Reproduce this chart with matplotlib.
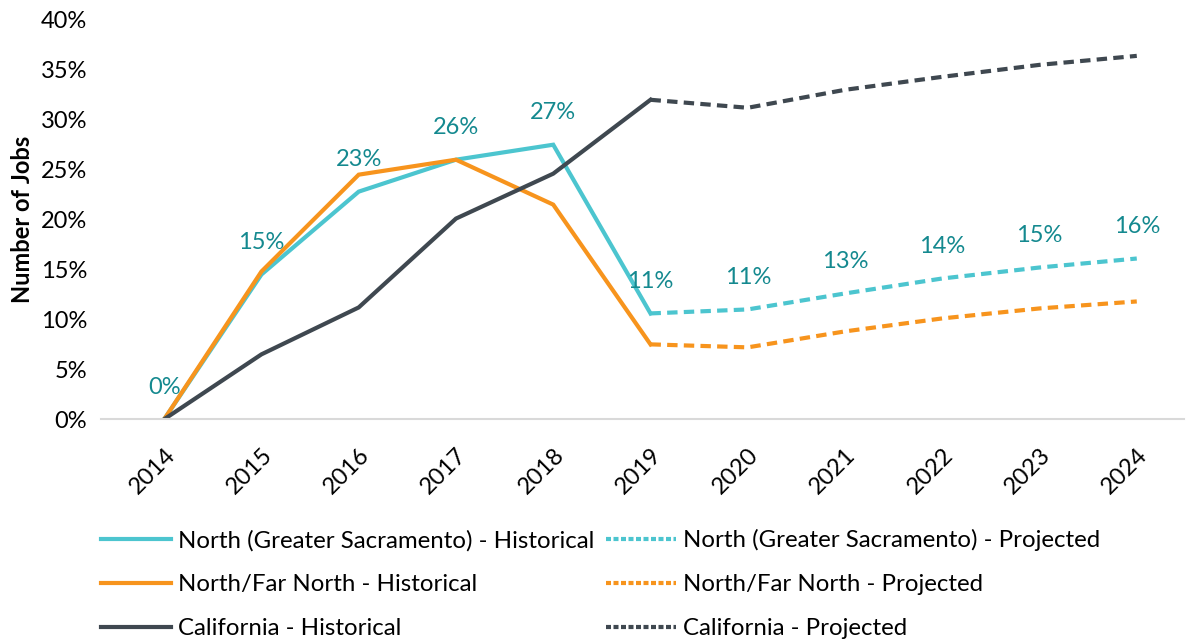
import matplotlib.pyplot as plt
from matplotlib.lines import Line2D

###
# DATA
###
YEARS = [2014, 2015, 2016, 2017, 2018, 2019, 2020, 2021, 2022, 2023, 2024]
HIST_YEARS = YEARS[:6]
PROJ_YEARS = YEARS[5:]

sac_hist = [0.0, 14.5, 22.8, 26.0, 27.5, 10.6]
sac_proj = [10.6, 11.0, 12.6, 14.1, 15.2, 16.1]
far_hist = [0.0, 14.8, 24.5, 26.0, 21.5, 7.5]
far_proj = [7.5, 7.2, 8.8, 10.1, 11.1, 11.8]
ca_hist = [0.0, 6.5, 11.2, 20.1, 24.6, 32.0]
ca_proj = [32.0, 31.2, 33.0, 34.3, 35.5, 36.4]

sac_labels = ['0%', '15%', '23%', '26%', '27%', '11%', '11%', '13%', '14%', '15%', '16%']

###
# PLOT SETTINGS
###
plt.rcParams['font.family'] = ['Lato', 'DejaVu Sans']
TEAL = '#4CC5CF'
ORANGE = '#F7941D'
DARK = '#3F4850'
LABEL_C = '#14898F'
LW = 3
DASH = (2.5, 1.5)

fig = plt.figure(figsize=[11.88, 6.43], dpi=100)
ax = fig.add_axes([0.085, 0.348, 0.912, 0.621])

ax.plot(HIST_YEARS, sac_hist, color=TEAL, lw=LW, solid_joinstyle='miter')
ax.plot(HIST_YEARS, far_hist, color=ORANGE, lw=LW, solid_joinstyle='miter')
ax.plot(HIST_YEARS, ca_hist, color=DARK, lw=LW, solid_joinstyle='miter')
ax.plot(PROJ_YEARS, sac_proj, color=TEAL, lw=LW, dashes=DASH)
ax.plot(PROJ_YEARS, far_proj, color=ORANGE, lw=LW, dashes=DASH)
ax.plot(PROJ_YEARS, ca_proj, color=DARK, lw=LW, dashes=DASH)

# data labels for Greater Sacramento
sac_all = sac_hist + sac_proj[1:]
for x, y, t in zip(YEARS, sac_all, sac_labels):
    ax.annotate(t, (x, y), xytext=(0, 23), textcoords='offset points',
                ha='center', va='center', color=LABEL_C, fontsize=17)

ax.set_xlim(2014 - 0.65, 2024 + 0.49)
ax.set_ylim(0, 40)
ax.set_yticks(range(0, 41, 5))
ax.set_yticklabels([str(v) + '%' for v in range(0, 41, 5)], fontsize=17)
ax.set_xticks(YEARS)
ax.set_xticklabels([str(y) for y in YEARS], fontsize=17, rotation=45,
                   ha='right', rotation_mode='anchor')
ax.tick_params(axis='both', length=0)
ax.tick_params(axis='x', pad=18)
ax.tick_params(axis='y', pad=10)
for s in ['top', 'right', 'left']:
    ax.spines[s].set_visible(False)
ax.spines['bottom'].set_color('#D9D9D9')
ax.spines['bottom'].set_linewidth(1.5)
ax.set_ylabel('Number of Jobs', fontsize=17, fontweight='bold', labelpad=5)

# legend (column-first fill, so order hist then proj)
handles = [
    Line2D([], [], color=TEAL, lw=LW),
    Line2D([], [], color=ORANGE, lw=LW),
    Line2D([], [], color=DARK, lw=LW),
    Line2D([], [], color=TEAL, lw=LW, dashes=(1.2, 0.6)),
    Line2D([], [], color=ORANGE, lw=LW, dashes=(1.2, 0.6)),
    Line2D([], [], color=DARK, lw=LW, dashes=(1.2, 0.6)),
]
labels = ['North (Greater Sacramento) - Historical',
          'North/Far North - Historical',
          'California - Historical',
          'North (Greater Sacramento) - Projected',
          'North/Far North - Projected',
          'California - Projected']
fig.legend(handles, labels, loc='lower left', bbox_to_anchor=(0.071, -0.02),
           ncol=2, frameon=False, fontsize=17.3, handlelength=2.9,
           handletextpad=0.3, columnspacing=0.5, labelspacing=0.95,
           borderpad=0.2)

plt.savefig('out.png', dpi=100)
